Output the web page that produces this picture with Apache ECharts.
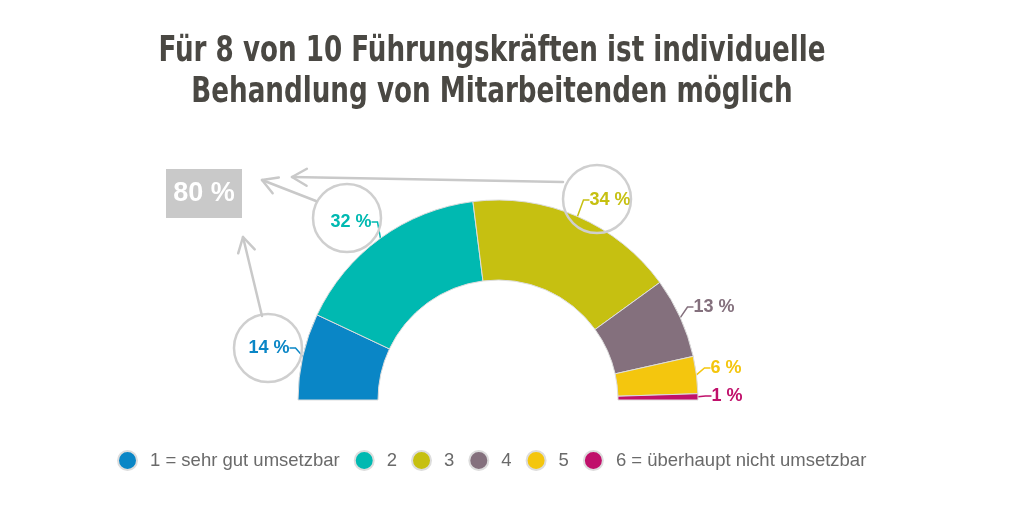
<!DOCTYPE html>
<html><head><meta charset="utf-8">
<script src="https://cdn.jsdelivr.net/npm/echarts@6/dist/echarts.min.js"></script>
<style>html,body{margin:0;padding:0;background:#fff}#c{width:1024px;height:505px}</style>
</head><body><div id="c"></div>
<script>
const categories = ['1 = sehr gut umsetzbar', '2', '3', '4', '5', '6 = überhaupt nicht umsetzbar'];
const values = [14, 32, 34, 13, 6, 1];
const colors = ['#0a86c6', '#00b9b1', '#c6c011', '#84707d', '#f4c60e', '#c0106b'];
const titleLines = ['Für 8 von 10 Führungskräften ist individuelle', 'Behandlung von Mitarbeitenden möglich'];
const summaryLabel = '80 %';

const chart = echarts.init(document.getElementById('c'));

const total = values.reduce((a, b) => a + b, 0);
const labelPos = [[269, 348], [351, 222], [610, 200], [714, 307], [726, 368], [727, 396]];

const data = categories.map((name, i) => ({
  name: name, value: values[i],
  itemStyle: { color: colors[i] },
  label: { color: colors[i] },
  labelLine: { lineStyle: { color: colors[i] } }
}));
data.push({ name: '__hidden', value: total, itemStyle: { color: 'none', borderWidth: 0 },
  label: { show: false }, labelLine: { show: false }, emphasis: { disabled: true }, tooltip: { show: false } });

const titleFont = 'bold 35px "Liberation Sans Narrow", "DejaVu Sans Condensed", sans-serif';
const mctx = document.createElement('canvas').getContext('2d');
mctx.font = titleFont;
const w1 = mctx.measureText(titleLines[0]).width;
const titleScale = 667 / w1;

function arrow(tail, tip) {
  const dx = tail[0] - tip[0], dy = tail[1] - tip[1];
  const L = Math.sqrt(dx * dx + dy * dy), ux = dx / L, uy = dy / L;
  const a = Math.PI / 6, len = 17;
  const w1 = [tip[0] + len * (ux * Math.cos(a) - uy * Math.sin(a)), tip[1] + len * (ux * Math.sin(a) + uy * Math.cos(a))];
  const w2 = [tip[0] + len * (ux * Math.cos(-a) - uy * Math.sin(-a)), tip[1] + len * (ux * Math.sin(-a) + uy * Math.cos(-a))];
  const st = { stroke: '#c9c9c9', lineWidth: 2.5, fill: null, lineCap: 'round', lineJoin: 'round' };
  return [
    { type: 'polyline', z: 50, silent: true, shape: { points: [tail, tip] }, style: st },
    { type: 'polyline', z: 50, silent: true, shape: { points: [w1, tip, w2] }, style: st }
  ];
}

const circles = [[268, 348, 34], [347, 218, 34], [597, 199, 34]];
const graphics = [];
titleLines.forEach((t, i) => {
  graphics.push({ type: 'text', x: 492, y: 52 + i * 41, scaleX: titleScale, silent: true,
    style: { text: t, font: titleFont, fill: '#4a4843', textAlign: 'center', textVerticalAlign: 'middle', align: 'center', verticalAlign: 'middle' } });
});
circles.forEach(c => graphics.push({ type: 'circle', z: 40, silent: true, shape: { cx: c[0], cy: c[1], r: c[2] },
  style: { fill: null, stroke: '#cfcfcf', lineWidth: 2.5 } }));
graphics.push(...arrow([563, 182], [292, 177]));
graphics.push(...arrow([316, 201], [262, 180]));
graphics.push(...arrow([262, 316], [243, 237]));
graphics.push({ type: 'rect', z: 40, silent: true, shape: { x: 166, y: 169, width: 76, height: 49 }, style: { fill: '#c9c9c9' } });
graphics.push({ type: 'text', z: 41, silent: true, x: 204, y: 194,
  style: { text: summaryLabel, font: 'bold 27px "Liberation Sans Narrow", "Liberation Sans", sans-serif', fill: '#ffffff', textAlign: 'center', textVerticalAlign: 'middle', align: 'center', verticalAlign: 'middle' } });

chart.setOption({
  backgroundColor: '#ffffff',
  animation: false,
  legend: {
    data: categories, left: 117, top: 450, padding: 0, icon: 'circle', itemWidth: 19, itemHeight: 19, itemGap: 14,
    textStyle: { fontFamily: 'Liberation Sans', fontSize: 18.5, color: '#6a6a6a', padding: [0, 0, 0, 8] }
  },
  graphic: graphics,
  series: [{
    type: 'pie', center: [498, 400], radius: [120, 200], startAngle: 180, clockwise: true,
    avoidLabelOverlap: false, emphasis: { scale: false },
    itemStyle: { borderColor: '#dddddd', borderWidth: 1 },
    label: { show: true, position: 'outside', formatter: p => p.value + ' %', fontFamily: 'Liberation Sans', fontWeight: 'bold', fontSize: 18 },
    labelLine: { show: true, length: 6, length2: 6, lineStyle: { width: 1.5 } },
    labelLayout: function (params) {
      const p = labelPos[params.dataIndex];
      if (!p) return {};
      return { x: p[0], y: p[1], align: 'center', verticalAlign: 'middle' };
    },
    data: data
  }]
});
</script></body></html>
